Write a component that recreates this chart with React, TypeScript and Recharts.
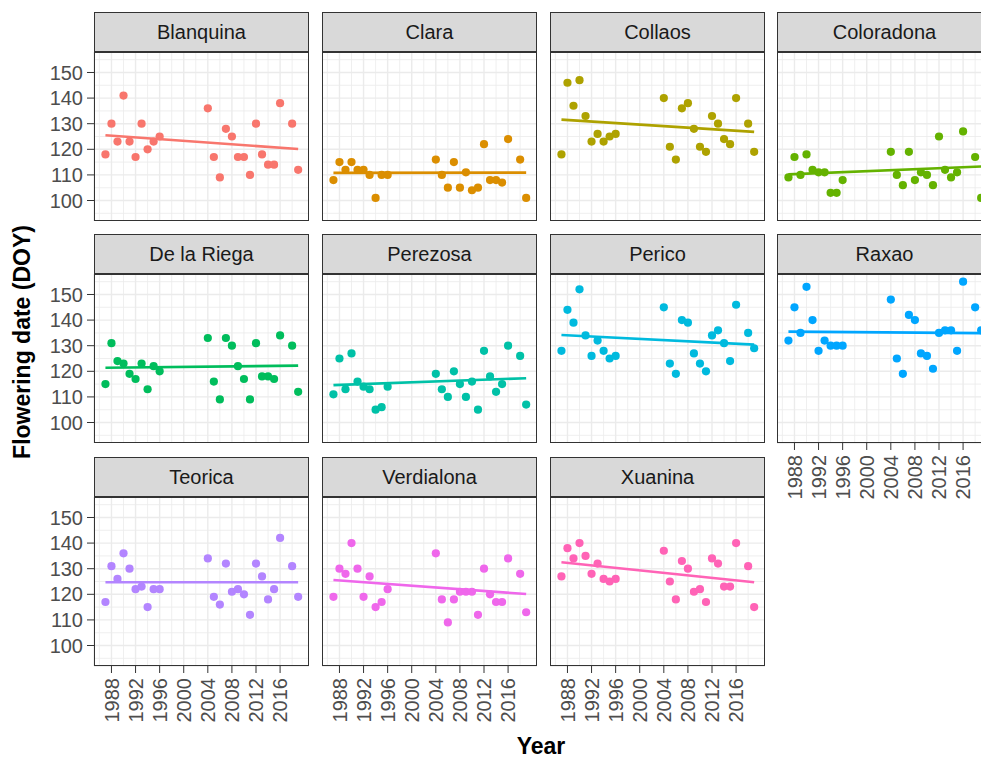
import React from 'react';
import { ComposedChart, Scatter, XAxis, YAxis, CartesianGrid, ReferenceLine } from 'recharts';

const FONT = 'Arial, "Liberation Sans", sans-serif';

// observation years (same for every cultivar)
const years = [
  1987, 1988, 1989, 1990, 1991, 1992, 1993, 1994, 1995, 1996,
  2004, 2005, 2006, 2007, 2008, 2009, 2010, 2011, 2012, 2013, 2014, 2015, 2016,
  2018, 2019,
];

const cultivars = [
  'Blanquina', 'Clara', 'Collaos', 'Coloradona',
  'De la Riega', 'Perezosa', 'Perico', 'Raxao',
  'Teorica', 'Verdialona', 'Xuanina',
];

// flowering day of year, in the order of `years`
const blanquina = [118, 130, 123, 141, 123, 117, 130, 120, 123, 125, 136, 117, 109, 128, 125, 117, 117, 110, 130, 118, 114, 114, 138, 130, 112];
const clara = [108, 115, 112, 115, 112, 112, 110, 101, 110, 110, 116, 110, 105, 115, 105, 111, 104, 105, 122, 108, 108, 107, 124, 116, 101];
const collaos = [118, 146, 137, 147, 133, 123, 126, 123, 125, 126, 140, 121, 116, 136, 138, 128, 121, 119, 133, 130, 124, 122, 140, 130, 119];
const coloradona = [109, 117, 110, 118, 112, 111, 111, 103, 103, 108, 119, 110, 106, 119, 108, 111, 110, 106, 125, 112, 109, 111, 127, 117, 101];
const delaRiega = [115, 131, 124, 123, 119, 117, 123, 113, 122, 120, 133, 116, 109, 133, 130, 122, 117, 109, 131, 118, 118, 117, 134, 130, 112];
const perezosa = [111, 125, 113, 127, 116, 114, 113, 105, 106, 114, 119, 113, 110, 120, 115, 110, 116, 105, 128, 118, 112, 115, 130, 126, 107];
const perico = [128, 144, 139, 152, 134, 126, 132, 128, 125, 126, 145, 123, 119, 140, 139, 127, 123, 120, 134, 136, 131, 124, 146, 135, 129];
const raxao = [132, 145, 135, 153, 140, 128, 132, 130, 130, 130, 148, 125, 119, 142, 140, 127, 126, 121, 135, 136, 136, 128, 155, 145, 136];
const teorica = [117, 131, 126, 136, 130, 122, 123, 115, 122, 122, 134, 119, 116, 132, 121, 122, 120, 112, 132, 127, 118, 122, 142, 131, 119];
const verdialona = [119, 130, 128, 140, 130, 119, 127, 115, 117, 122, 136, 118, 109, 118, 121, 121, 121, 112, 130, 120, 117, 117, 134, 128, 113];
const xuanina = [127, 138, 134, 140, 135, 128, 132, 126, 125, 126, 137, 125, 118, 133, 130, 121, 122, 117, 134, 132, 123, 123, 140, 131, 115];

const seriesValues = [blanquina, clara, collaos, coloradona, delaRiega, perezosa, perico, raxao, teorica, verdialona, xuanina];

// linear trend read at the first and last year
const trendYears = [1987, 2019];
const trendStart = [125.5, 110.8, 131.6, 110.2, 121.4, 114.6, 134.2, 135.5, 124.7, 125.6, 132.5];
const trendEnd = [120.1, 110.9, 126.8, 113.3, 122.2, 117.3, 130.4, 134.9, 124.7, 120.1, 124.7];

const colors = ['#F8766D', '#DB8E00', '#AEA200', '#64B200', '#00BD5C', '#00C1A7', '#00BADE', '#00A6FF', '#B385FF', '#EF67EB', '#FF63B6'];

const yearTicks = [1988, 1992, 1996, 2000, 2004, 2008, 2012, 2016];
const yearMinor = [1986, 1990, 1994, 1998, 2002, 2006, 2010, 2014, 2018];
const doyTicks = [100, 110, 120, 130, 140, 150];
const doyMinor = [95, 105, 115, 125, 135, 145, 155];

const COL_LEFT = [94, 322, 550, 777];
const STRIP_TOP = [12, 234, 457];
const STRIP_H = 40;
const PANEL_W = 215;
const PANEL_H = 169;
const Y_AXIS_W = 70;
const X_AXIS_H = 70;

const YearTick = (props: any) => {
  const { x, y, payload } = props;
  const ty = y + 3;
  return (
    <text
      x={x}
      y={ty}
      transform={`rotate(-90, ${x}, ${ty})`}
      textAnchor="end"
      dy="0.36em"
      fill="#4D4D4D"
      fontSize={20}
      fontFamily={FONT}
    >
      {payload.value}
    </text>
  );
};

const Panel = ({ index }: { index: number }) => {
  const col = index % 4;
  const row = Math.floor(index / 4);
  const showY = col === 0;
  const showX = index + 4 >= cultivars.length;
  const color = colors[index];
  const points = years.map((year, k) => ({ year, doy: seriesValues[index][k] }));

  const left = COL_LEFT[col];
  const stripTop = STRIP_TOP[row];
  const panelTop = stripTop + STRIP_H;

  return (
    <>
      <div
        style={{
          position: 'absolute',
          left,
          top: stripTop,
          width: PANEL_W,
          height: STRIP_H,
          boxSizing: 'border-box',
          background: '#D9D9D9',
          border: '1px solid #333333',
          display: 'flex',
          alignItems: 'center',
          justifyContent: 'center',
          fontSize: 20,
          color: '#1A1A1A',
          fontFamily: FONT,
        }}
      >
        {cultivars[index]}
      </div>
      <div style={{ position: 'absolute', left: left - (showY ? Y_AXIS_W : 0), top: panelTop }}>
        <ComposedChart
          width={PANEL_W + (showY ? Y_AXIS_W : 0)}
          height={PANEL_H + (showX ? X_AXIS_H : 0)}
          data={points}
          margin={{ top: 0, right: 0, bottom: 0, left: 0 }}
        >
          <CartesianGrid stroke="#EBEBEB" strokeWidth={0.8} horizontalValues={doyMinor} verticalValues={yearMinor} />
          <CartesianGrid stroke="#EBEBEB" strokeWidth={1.4} />
          <XAxis
            type="number"
            dataKey="year"
            domain={[1985.1, 2020.8]}
            allowDataOverflow
            ticks={yearTicks}
            interval={0}
            hide={!showX}
            height={X_AXIS_H}
            axisLine={false}
            tickSize={7}
            tickLine={{ stroke: '#333333' }}
            tick={<YearTick />}
          />
          <YAxis
            type="number"
            dataKey="doy"
            domain={[92, 158]}
            allowDataOverflow
            ticks={doyTicks}
            interval={0}
            hide={!showY}
            width={Y_AXIS_W}
            axisLine={false}
            tickSize={7}
            tickMargin={4}
            tickLine={{ stroke: '#333333' }}
            tick={{ fill: '#4D4D4D', fontSize: 20, fontFamily: FONT }}
          />
          <Scatter
            data={points}
            fill={color}
            isAnimationActive={false}
            shape={(p: any) => <circle cx={p.cx} cy={p.cy} r={4.1} fill={color} />}
          />
          <ReferenceLine
            segment={[
              { x: trendYears[0], y: trendStart[index] },
              { x: trendYears[1], y: trendEnd[index] },
            ]}
            stroke={color}
            strokeWidth={2.6}
            ifOverflow="visible"
          />
        </ComposedChart>
      </div>
      <div
        style={{
          position: 'absolute',
          left,
          top: panelTop,
          width: PANEL_W,
          height: PANEL_H,
          boxSizing: 'border-box',
          border: '1px solid #333333',
          pointerEvents: 'none',
        }}
      />
    </>
  );
};

export default function App() {
  return (
    <div
      style={{
        position: 'absolute',
        left: 0,
        top: 0,
        width: 981,
        height: 762,
        overflow: 'hidden',
        background: '#FFFFFF',
        fontFamily: FONT,
      }}
    >
      <svg width={981} height={762} style={{ position: 'absolute', left: 0, top: 0 }}>
        <text x={541} y={754} textAnchor="middle" fontWeight="bold" fontSize={23} fontFamily={FONT} fill="#000000">
          Year
        </text>
        <text
          transform="translate(30, 342) rotate(-90)"
          textAnchor="middle"
          fontWeight="bold"
          fontSize={23}
          fontFamily={FONT}
          fill="#000000"
        >
          Flowering date (DOY)
        </text>
      </svg>
      {cultivars.map((name, i) => (
        <Panel key={name} index={i} />
      ))}
    </div>
  );
}
